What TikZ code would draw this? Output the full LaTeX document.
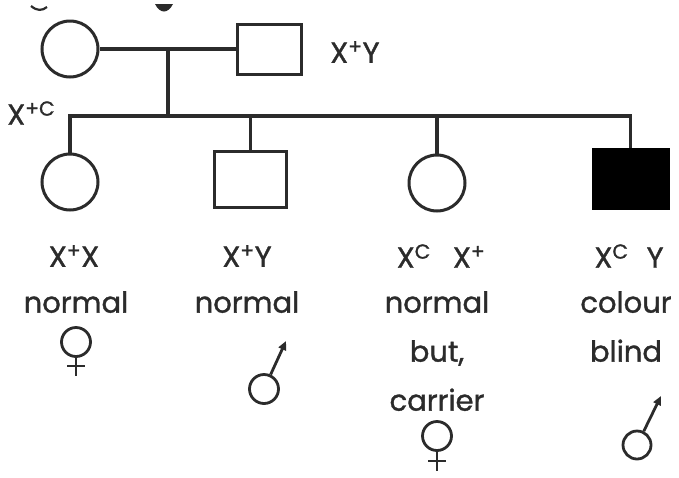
\documentclass[tikz,border=0pt]{standalone}
\usepackage{fontspec}
\setmainfont{Poppins}[FakeBold=1.2]
\usetikzlibrary{arrows.meta}

\definecolor{ink}{HTML}{2B2B2B}

\tikzset{
  link/.style={draw=ink, line width=3.3pt},
  female/.style={circle, draw=ink, line width=3pt, fill=white, minimum size=56pt, inner sep=0pt},
  male/.style={rectangle, draw=ink, line width=3pt, fill=white, inner sep=0pt},
  affected/.style={male, fill=black, draw=black},
  txt/.style={text=ink, font=\fontsize{29}{49}\selectfont, inner sep=0pt, align=center},
  symring/.style={circle, draw=ink, line width=2.8pt, inner sep=0pt, minimum size=29pt},
  symline/.style={draw=ink, line width=2.8pt},
}
\newcommand{\plus}{\textsuperscript{+}}
\newcommand{\cee}{\textsuperscript{C}}

\begin{document}
\begin{tikzpicture}[x=1pt, y=-1pt]
\useasboundingbox (0,0) rectangle (679,477);

% bottoms of glyphs from a line cut off above
\draw[ink, line width=2.2pt] (31,6) .. controls (37,11) and (42,11) .. (47,7);
\fill[ink] (155,4) .. controls (160,14) and (168,14) .. (173,4) -- cycle;

% parents
\node[female] (mother) at (70,49) {};
\node[male, minimum width=64pt, minimum height=50pt] (father) at (269.5,49) {};
\node[txt, anchor=west] (fgeno) at (330,52) {X\plus Y};
\node[txt, anchor=west] (mgeno) at (7,113) {X\textsuperscript{+C}};

% children
\node[female] (c1) at (70,182) {};
\node[male, minimum width=72pt, minimum height=56pt] (c2) at (250.5,179.5) {};
\node[female] (c3) at (437,183) {};
\node[affected, minimum width=75pt, minimum height=59pt] (c4) at (630.5,178.5) {};

% marriage and sibship lines
\coordinate (mid) at (168,49);
\coordinate (sib) at (168,116);
\draw[link] (mother) -- (father);
\draw[link] (mid) -- (sib);
\draw[link] (c1.north) -- (c1.north |- sib) -- (c4.north |- sib) -- (c4.north);
\draw[link] (c2.north) -- (c2.north |- sib);
\draw[link] (c3.north) -- (c3.north |- sib);

% genotypes
\node[txt] (g1) at (74,256) {X\plus X};
\node[txt] (g2) at (247,256) {X\plus Y};
\node[txt] (g3) at (441,256) {X\cee\hspace{22pt}X\plus};
\node[txt] (g4) at (629,256) {X\cee\hspace{18pt}Y};

% phenotypes
\node[txt, anchor=north] (p1) at (76,291) {normal};
\node[txt, anchor=north] (p2) at (247,291) {normal};
\node[txt, anchor=north] (p3) at (437,291) {normal\\but,\\carrier};
\node[txt, anchor=north] (p4) at (626,291) {colour\\blind};

% sex symbols: female
\node[symring] (v1) at (76,342) {};
\coordinate (v1end) at (76,376);
\coordinate (v1l) at (67,366);
\coordinate (v1r) at (85,366);
\draw[symline] (v1.south) -- (v1end);
\draw[symline] (v1l) -- (v1r);

\node[symring] (v3) at (437,436) {};
\coordinate (v3end) at (437,471);
\coordinate (v3l) at (428,461);
\coordinate (v3r) at (446,461);
\draw[symline] (v3.south) -- (v3end);
\draw[symline] (v3l) -- (v3r);

% sex symbols: male
\node[symring] (m2) at (264,389) {};
\coordinate (m2tip) at (286,341);
\draw[symline, -{Triangle[length=9pt,width=8pt]}] (m2) -- (m2tip);

\node[symring, minimum size=28pt] (m4) at (637,445) {};
\coordinate (m4tip) at (661,396);
\draw[symline, -{Triangle[length=9pt,width=8pt]}] (m4) -- (m4tip);
\end{tikzpicture}
\end{document}
